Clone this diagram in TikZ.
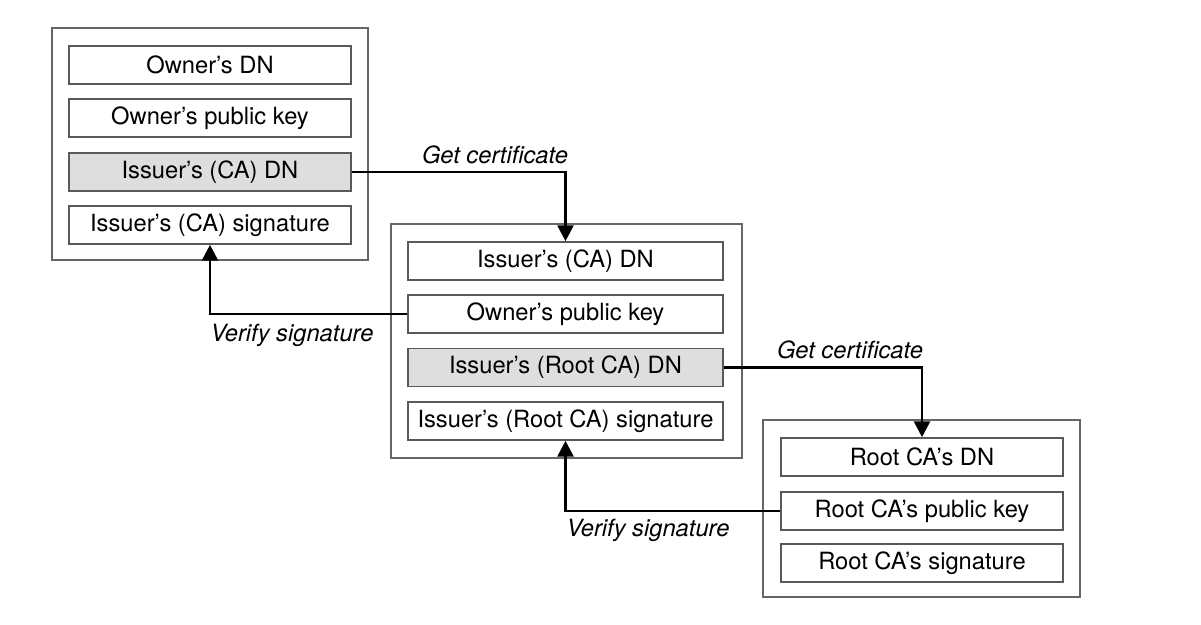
\documentclass[tikz,border=0pt]{standalone}
\usepackage{fontspec}
\setmainfont{TeX Gyre Heros}
\usepackage{tikz}
\usetikzlibrary{arrows.meta}
\usetikzlibrary{positioning}
\tikzstyle{certbox}=[draw=black!60,line width=0.6pt,inner sep=0pt]
\tikzstyle{field}=[draw=black!65,line width=0.9pt,fill=white,minimum height=38*0.02cm,inner sep=0pt,font=\fontsize{13.5}{15}\selectfont]
\tikzstyle{keyfield}=[field,fill=black!13]
\tikzstyle{edge} = [draw,line width=1.6pt,-{Triangle[length=9pt,width=9pt]}]
\tikzstyle{step label} = [font=\fontsize{13.5}{15}\selectfont\itshape]

\begin{document}
\begin{tikzpicture}[x=0.02cm,y=-0.02cm]
  \useasboundingbox (0,0) rectangle (1201,625);

  % certificate frames
  \foreach \x/\y/\w/\h/\name in {210/144/316/232/cert1, 566.5/341/351/234/cert2, 921.5/508.5/317/177/cert3}
          \node[certbox,minimum width=\w*0.02cm,minimum height=\h*0.02cm] (\name) at (\x,\y) {};

  % user certificate
  \foreach \y/\name/\label in {65/f11/Owner's DN, 118/f12/Owner's public key, 225/f14/Issuer's (CA) signature}
          \node[field,minimum width=282*0.02cm] (\name) at (210,\y) {\label};
  \node[keyfield,minimum width=282*0.02cm] (f13) at (210,172) {Issuer's (CA) DN};

  % CA certificate
  \foreach \y/\name/\label in {261/f21/Issuer's (CA) DN, 314/f22/Owner's public key, 421/f24/Issuer's (Root CA) signature}
          \node[field,minimum width=315*0.02cm] (\name) at (565.5,\y) {\label};
  \node[keyfield,minimum width=315*0.02cm] (f23) at (565.5,367.5) {Issuer's (Root CA) DN};

  % root certificate
  \foreach \y/\name/\label in {457/f31/Root CA's DN, 511/f32/Root CA's public key, 563/f33/Root CA's signature}
          \node[field,minimum width=282*0.02cm] (\name) at (922,\y) {\label};

  % links
  \draw[edge] (f13.east) -| (f21.north);
  \draw[edge] (f22.west) -| (f14.south);
  \draw[edge] (f23.east) -| (f31.north);
  \draw[edge] (f32.west) -| (f24.south);

  \node[step label] (get1) at (495,155) {Get certificate};
  \node[step label] (ver1) at (292,335) {Verify signature};
  \node[step label] (get2) at (850,350) {Get certificate};
  \node[step label] (ver2) at (648,530) {Verify signature};
\end{tikzpicture}
\end{document}
